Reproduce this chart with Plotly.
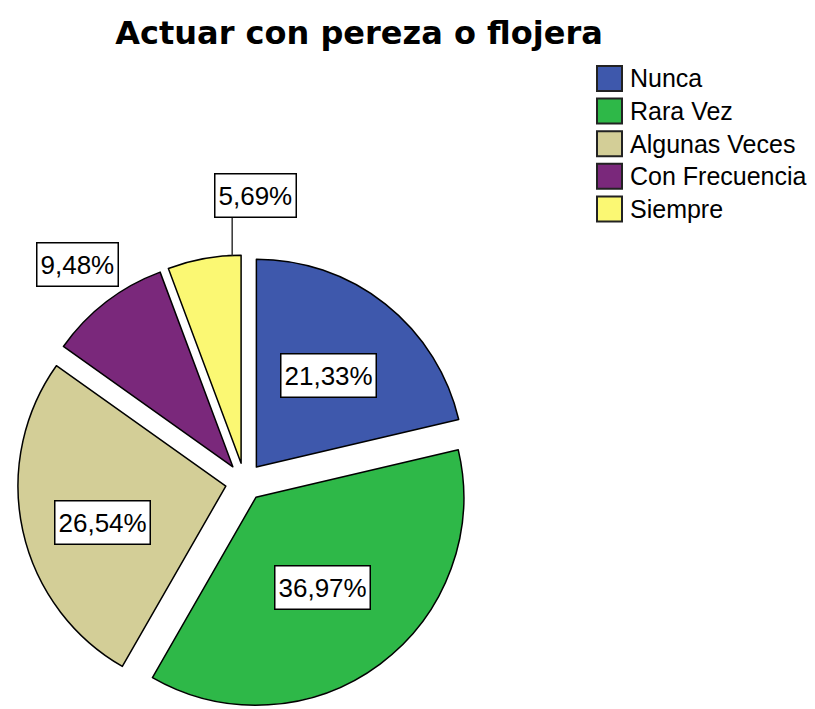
import math
import plotly.graph_objects as go

# Survey answers for "Actuar con pereza o flojera" (percent of respondents)
categories = ["Nunca", "Rara Vez", "Algunas Veces", "Con Frecuencia", "Siempre"]
percentages = [21.33, 36.97, 26.54, 9.48, 5.69]
colors = ["#3E58AC", "#2EB848", "#D3CE97", "#7A287B", "#FBF873"]

W, H = 815, 709
PULL = 0.092
DOM_X = [0.0215, 0.5785]
DOM_Y = [0.0, 0.6403]

# Label placement per slice: (radius fraction from pulled centre, angle fraction within slice)
label_place = [(0.56, 0.5), (0.54, 0.5), (0.62, 0.46), (1.23, 0.5), (1.0, 0.88)]

fig = go.Figure(go.Pie(
    labels=categories,
    values=percentages,
    marker=dict(colors=colors, line=dict(color="black", width=1.5)),
    pull=[PULL] * len(percentages),
    sort=False,
    direction="clockwise",
    rotation=0,
    textinfo="none",
    hoverinfo="label+percent",
    showlegend=False,
    domain=dict(x=DOM_X, y=DOM_Y),
))

# Pie geometry in pixels, following plotly's own layout of the pie box
box_w = W * (DOM_X[1] - DOM_X[0])
box_h = H * (DOM_Y[1] - DOM_Y[0])
cx = W * (DOM_X[0] + DOM_X[1]) / 2
cy = H * (1 - DOM_Y[0]) - box_h / 2
r = min(box_w, box_h) / (2 * (1 + PULL))
total = sum(percentages)


def slice_point(i, rad_frac, ang_frac):
    start = sum(percentages[:i])
    mid = 2 * math.pi * (start + percentages[i] / 2) / total
    ang = 2 * math.pi * (start + ang_frac * percentages[i]) / total
    pcx = cx + PULL * r * math.sin(mid)
    pcy = cy - PULL * r * math.cos(mid)
    px = pcx + rad_frac * r * math.sin(ang)
    py = pcy - rad_frac * r * math.cos(ang)
    return px, py


def to_paper(px, py):
    return px / W, 1 - py / H


annotations = []
shapes = []
label_font = dict(family="Liberation Sans, Arial, sans-serif", size=26, color="black")

for i, v in enumerate(percentages):
    text = f"{v:.2f}%".replace(".", ",")
    rf, af = label_place[i]
    px, py = slice_point(i, rf, af)
    if i == len(percentages) - 1:
        # small slice: label sits above, joined by a leader line
        tx, ty = to_paper(px, py)
        bx, by = to_paper(px, py - 38)
        shapes.append(dict(type="line", xref="paper", yref="paper",
                           x0=tx, y0=ty, x1=bx, y1=by,
                           line=dict(color="#333333", width=1.5)))
        px, py = px + 23, py - 60
    x, y = to_paper(px, py)
    annotations.append(dict(
        text=text, x=x, y=y, xref="paper", yref="paper",
        xanchor="center", yanchor="middle", showarrow=False,
        font=label_font, bgcolor="white", bordercolor="black",
        borderwidth=1.5, borderpad=3, height=36,
    ))

# Legend drawn as swatches with labels
leg_x0, leg_top, sw, row_h = 597, 66, 25, 32.6
for i, name in enumerate(categories):
    top = leg_top + i * row_h
    shapes.append(dict(type="rect", xref="paper", yref="paper",
                       x0=leg_x0 / W, x1=(leg_x0 + sw) / W,
                       y0=1 - (top + sw) / H, y1=1 - top / H,
                       fillcolor=colors[i], line=dict(color="#222222", width=2)))
    annotations.append(dict(
        text=name, x=(leg_x0 + sw + 6) / W, y=1 - (top + sw / 2) / H,
        xref="paper", yref="paper", xanchor="left", yanchor="middle",
        showarrow=False,
        font=dict(family="Liberation Sans, Arial, sans-serif", size=25, color="black"),
    ))

fig.update_layout(
    width=W, height=H,
    margin=dict(l=0, r=0, t=0, b=0),
    paper_bgcolor="white",
    plot_bgcolor="white",
    title=dict(
        text="<b>Actuar con pereza o flojera</b>",
        x=359 / W, xanchor="center",
        y=1 - 33 / H, yanchor="middle",
        font=dict(family="DejaVu Sans, sans-serif", size=32, color="black"),
    ),
    annotations=annotations,
    shapes=shapes,
)

fig.write_html("out.html")
